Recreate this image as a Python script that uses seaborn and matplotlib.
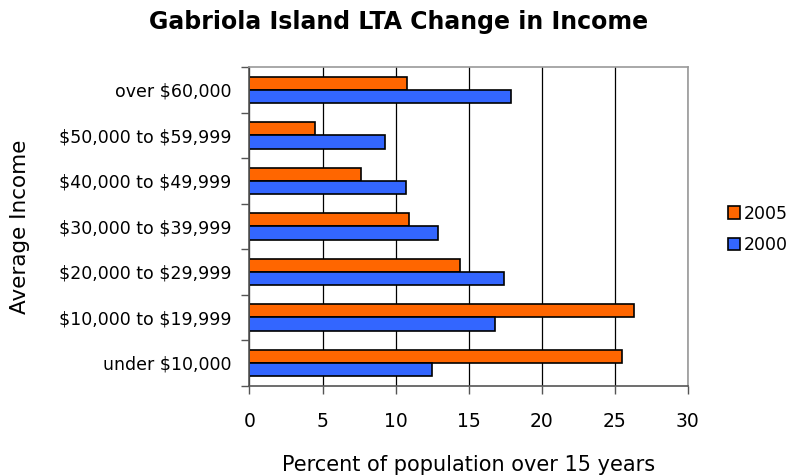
import numpy as np
import pandas as pd
import seaborn as sns
import matplotlib.pyplot as plt
from matplotlib.ticker import FixedLocator

categories = [
    "over $60,000",
    "$50,000 to $59,999",
    "$40,000 to $49,999",
    "$30,000 to $39,999",
    "$20,000 to $29,999",
    "$10,000 to $19,999",
    "under $10,000",
]
values_2005 = [10.8, 4.5, 7.6, 10.9, 14.4, 26.3, 25.5]
values_2000 = [17.9, 9.3, 10.7, 12.9, 17.4, 16.8, 12.5]
years = ["2005", "2000"]
x_ticks = [0, 5, 10, 15, 20, 25, 30]

df = pd.DataFrame({
    "income": categories * 2,
    "pct": values_2005 + values_2000,
    "year": ["2005"] * len(categories) + ["2000"] * len(categories),
})

sns.set_style("white")
plt.rcParams["font.family"] = ["DejaVu Sans"]
plt.rcParams["text.parse_math"] = False
plt.rcParams["text.color"] = "black"
plt.rcParams["axes.labelcolor"] = "black"
plt.rcParams["xtick.color"] = "black"
plt.rcParams["ytick.color"] = "black"

fig = plt.figure(figsize=(7.97, 4.76), dpi=100)
ax = fig.add_axes([0.313, 0.19, 0.55, 0.669])

sns.barplot(
    data=df, x="pct", y="income", hue="year", hue_order=years,
    order=categories, orient="h", width=0.58,
    palette={"2005": "#FF6600", "2000": "#3366FF"},
    edgecolor="black", linewidth=1.2, saturation=1, ax=ax,
)

ax.set_xlim(0, 30)
ax.set_ylim(len(categories) - 0.5, -0.5)
ax.set_xticks(x_ticks)
ax.set_xticklabels([str(t) for t in x_ticks], fontsize=13.5)
ax.xaxis.grid(True, color="black", linewidth=0.9)
ax.set_axisbelow(True)

# y ticks on the category boundaries, labels at centres
ax.yaxis.set_major_locator(FixedLocator(range(len(categories))))
ax.set_yticklabels(categories, fontsize=12.5)
ax.yaxis.set_minor_locator(FixedLocator(np.arange(-0.5, len(categories), 1)))
ax.tick_params(axis="y", which="major", length=0, pad=13)
ax.tick_params(axis="y", which="minor", length=6, width=1, color="#555555", left=True)
ax.tick_params(axis="x", which="major", length=6, width=1, color="#555555", bottom=True, pad=13)

for side in ["left", "bottom"]:
    ax.spines[side].set_color("#555555")
    ax.spines[side].set_linewidth(1.2)
for side in ["top", "right"]:
    ax.spines[side].set_color("#999999")
    ax.spines[side].set_linewidth(1.2)

ax.set_xlabel("Percent of population over 15 years", fontsize=15, labelpad=17)
ax.set_ylabel("Average Income", fontsize=15.5)
ax.yaxis.set_label_coords(-0.50, 0.5)
fig.suptitle("Gabriola Island LTA Change in Income", fontsize=17, fontweight="bold", y=0.98)

ax.legend(
    loc="center left", bbox_to_anchor=(1.055, 0.49), frameon=False,
    fontsize=12.5, handlelength=0.7, handleheight=0.7, handletextpad=0.25,
    labelspacing=0.8,
)

fig.savefig("out.png", dpi=100)
